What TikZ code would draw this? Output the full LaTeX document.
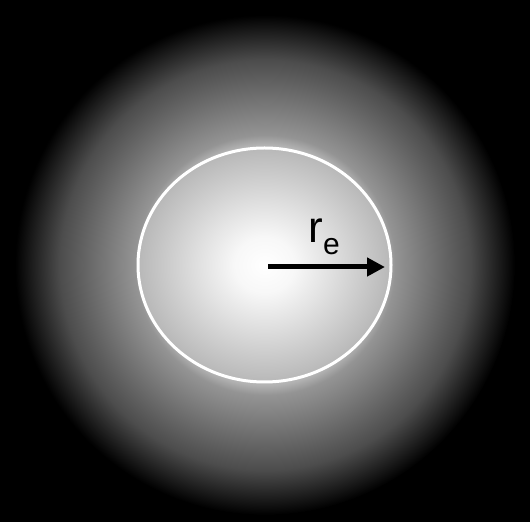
\documentclass[tikz,border=0pt]{standalone}
\usepackage{fontspec}
\setmainfont{Liberation Sans}
\usetikzlibrary{arrows.meta}
\pgfdeclareradialshading{glowouter}{\pgfpoint{0bp}{0bp}}{%
color(0bp)=(white);
color(4bp)=(black!4);
color(8bp)=(black!13);
color(12bp)=(black!30);
color(13bp)=(black!42);
color(16.5bp)=(black!55);
color(20.5bp)=(black!70);
color(23.5bp)=(black!90);
color(25bp)=(black);
color(50bp)=(black)}
\pgfdeclareradialshading{glowinner}{\pgfpoint{0bp}{0bp}}{%
color(0bp)=(white);
color(6bp)=(black!3);
color(13bp)=(black!12);
color(25bp)=(black!28);
color(50bp)=(black!28)}
\tikzset{
  ring/.style={draw=white, line width=3pt},
  radius arrow/.style={line width=5pt, -{Triangle[length=18pt,width=18pt]}},
  bigtext/.style={font=\fontsize{44}{44}\selectfont, inner sep=0pt},
  subtext/.style={font=\fontsize{30}{30}\selectfont, inner sep=0pt}
}
\begin{document}
\begin{tikzpicture}[x=1pt,y=1pt]
\fill[black] (0,0) rectangle (530,522);
\useasboundingbox (0,0) rectangle (530,522);
\shade[shading=glowouter] (265,257) circle[radius=250];
\shade[shading=glowinner] (264.5,257) ellipse[x radius=126.5, y radius=117];
\draw[ring] (264.5,257) ellipse[x radius=126.5, y radius=117];
\coordinate (c) at (268,255);
\coordinate (e) at (385,255);
\draw[radius arrow] (c) -- (e);
\node[bigtext, anchor=base west] (r) at (308,279) {r};
\node[subtext, anchor=base west] (sub) at (323,267) {e};
\end{tikzpicture}
\end{document}
